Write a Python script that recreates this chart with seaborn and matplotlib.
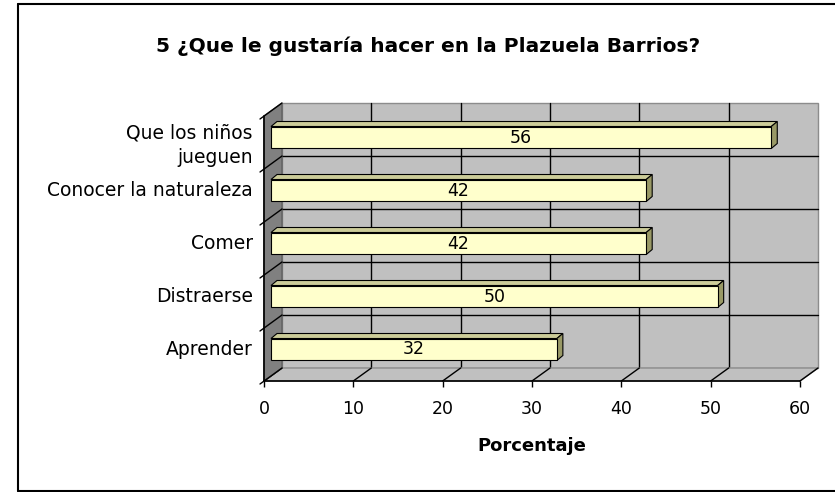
import matplotlib
matplotlib.use("Agg")
import matplotlib.pyplot as plt
import seaborn as sns
import pandas as pd
from matplotlib.patches import Polygon
from matplotlib.lines import Line2D

# ---- data -------------------------------------------------------------
categorias = ["Que los niños\njueguen", "Conocer la naturaleza", "Comer",
              "Distraerse", "Aprender"]
porcentajes = [56, 42, 42, 50, 32]
xticks = [0, 10, 20, 30, 40, 50, 60]
titulo = "5 ¿Que le gustaría hacer en la Plazuela Barrios?"
eje_x = "Porcentaje"

df = pd.DataFrame({"categoria": categorias, "porcentaje": porcentajes})

# ---- figure / front plane of the 3-D box ------------------------------
W, H, DPI = 835, 492, 100
sns.set_style("white")
plt.rcParams["font.family"] = ["DejaVu Sans"]
plt.rcParams.update({"text.color": "black", "axes.labelcolor": "black",
                     "xtick.color": "black", "ytick.color": "black"})
fig = plt.figure(figsize=(W / DPI, H / DPI), dpi=DPI)
fig.patch.set_facecolor("white")

L, R, T, B = 264, 800, 116, 381          # front plane in pixels
ax = fig.add_axes([L / W, (H - B) / H, (R - L) / W, (B - T) / H])
XMAX = xticks[-1]
NCAT = len(categorias)
ax.set_xlim(0, XMAX)

sns.barplot(data=df, x="porcentaje", y="categoria", orient="h",
            color="#FFFFCC", edgecolor="black", linewidth=0.8,
            width=0.415, saturation=1, ax=ax, zorder=3)
bars = list(ax.patches)
ax.set_ylim(NCAT - 0.5, -0.5)
ax.set_xlim(0, XMAX)
ax.patch.set_visible(False)
for s in ax.spines.values():
    s.set_visible(False)

# pixel -> data conversion for depth offsets
sx = XMAX / (R - L)
sy = NCAT / (B - T)


def off(x, y, dxp, dyp):
    """Shift data point by a depth offset given in pixels (right, up)."""
    return (x + dxp * sx, y - dyp * sy)


BACK = (18, 13)      # back wall offset
BAR_F = (7, 5)       # bar front face offset
BAR_B = (13, 10)     # bar back face offset

y0, y1 = -0.5, NCAT - 0.5


def line(p, q, **kw):
    ax.add_line(Line2D([p[0], q[0]], [p[1], q[1]], clip_on=False, **kw))


# back wall
bw = [off(0, y0, *BACK), off(XMAX, y0, *BACK), off(XMAX, y1, *BACK), off(0, y1, *BACK)]
ax.add_patch(Polygon(bw, closed=True, facecolor="#C0C0C0", edgecolor="#8C8C8C",
                     lw=1, zorder=0.5, clip_on=False))
# back wall grid
for xv in xticks[1:-1]:
    line(off(xv, y0, *BACK), off(xv, y1, *BACK), color="black", lw=1, zorder=0.6)
for k in range(1, NCAT):
    yb = k - 0.5
    line(off(0, yb, *BACK), off(XMAX, yb, *BACK), color="black", lw=1, zorder=0.6)

# floor
fl = [off(0, y1, 0, 0), off(XMAX, y1, 0, 0), off(XMAX, y1, *BACK), off(0, y1, *BACK)]
ax.add_patch(Polygon(fl, closed=True, facecolor="#C0C0C0", edgecolor="#8C8C8C",
                     lw=1, zorder=0.7, clip_on=False))
for xv in xticks:
    line(off(xv, y1, 0, 0), off(xv, y1, *BACK), color="black", lw=1, zorder=0.8)

# left wall
lw_ = [off(0, y0, 0, 0), off(0, y0, *BACK), off(0, y1, *BACK), off(0, y1, 0, 0)]
ax.add_patch(Polygon(lw_, closed=True, facecolor="#808080", edgecolor="#606060",
                     lw=1, zorder=0.9, clip_on=False))
for k in range(NCAT + 1):
    yb = k - 0.5
    line(off(0, yb, -4, -3), off(0, yb, *BACK), color="black", lw=1, zorder=1.0)

# front edges of the box
line((0, y1), (XMAX, y1), color="black", lw=1.2, zorder=2.5)
line((0, y0), (0, y1), color="black", lw=1.2, zorder=2.5)

# 3-D bars: move front face and add top / side faces
for p, v in zip(bars, porcentajes):
    x, y, w, h = p.get_x(), p.get_y(), p.get_width(), p.get_height()
    nx, ny = off(x, y, *BAR_F)
    p.set_x(nx)
    p.set_y(ny)
    p.set_zorder(3)
    p.set_clip_on(False)
    top = [off(x, y, *BAR_F), off(x + w, y, *BAR_F), off(x + w, y, *BAR_B), off(x, y, *BAR_B)]
    side = [off(x + w, y, *BAR_F), off(x + w, y + h, *BAR_F),
            off(x + w, y + h, *BAR_B), off(x + w, y, *BAR_B)]
    ax.add_patch(Polygon(top, closed=True, facecolor="#CCCC99", edgecolor="black",
                         lw=0.8, zorder=2.9, clip_on=False))
    ax.add_patch(Polygon(side, closed=True, facecolor="#999966", edgecolor="black",
                         lw=0.8, zorder=2.9, clip_on=False))
    cx, cy = off(x + w / 2, y + h / 2, *BAR_F)
    ax.text(cx, cy, f"{v}", ha="center", va="center", fontsize=12.5, zorder=4)

# category labels
ax.set_yticks([])
ax.set_ylabel("")
for i, c in enumerate(categorias):
    tx, ty = off(0, i, -11, 5)
    if "\n" in c:
        ty = off(0, i, 0, -3)[1]
    ax.text(tx, ty, c, ha="right", va="center", multialignment="right",
            fontsize=13.5, linespacing=1.35)

# value axis
ax.set_xticks(xticks)
ax.set_xticklabels([str(t) for t in xticks], fontsize=12.5)
ax.tick_params(axis="x", direction="out", length=4, width=1, color="black", pad=10,
               bottom=True)
ax.set_xlabel(eje_x, fontsize=13, fontweight="bold")
ax.xaxis.set_label_coords(0.5, (H - 446 - (H - B)) / (B - T))
ax.xaxis.label.set_va("center")

# title
fig.text(428 / W, 1 - 46 / H, titulo, ha="center", va="center",
         fontsize=14.5, fontweight="bold")

# chart border
for xs, ys in [((17.5, 17.5), (3.5, 491)), ((17.5, 835), (3.5, 3.5)),
               ((17.5, 835), (491, 491))]:
    fig.add_artist(Line2D([a / W for a in xs], [1 - b / H for b in ys],
                          color="black", lw=1.5, transform=fig.transFigure))

fig.savefig("out.png", dpi=DPI)
